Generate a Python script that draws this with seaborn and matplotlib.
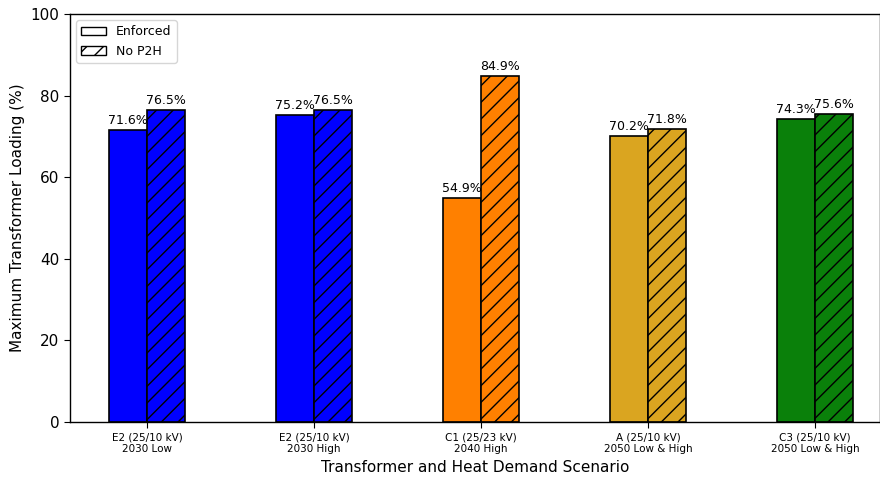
import matplotlib
matplotlib.use("Agg")
import matplotlib.pyplot as plt
import seaborn as sns
import pandas as pd
from matplotlib.patches import Patch

scenarios = ["E2 (25/10 kV)\n2030 Low", "E2 (25/10 kV)\n2030 High",
             "C1 (25/23 kV)\n2040 High", "A (25/10 kV)\n2050 Low & High",
             "C3 (25/10 kV)\n2050 Low & High"]
enforced = [71.6, 75.2, 54.9, 70.2, 74.3]
no_p2h = [76.5, 76.5, 84.9, 71.8, 75.6]
cases = ["Enforced", "No P2H"]
colors = ["#0000ff", "#0000ff", "#ff8000", "#daa520", "#0a800a"]

df = pd.DataFrame({
    "scenario": scenarios * 2,
    "load": enforced + no_p2h,
    "case": [cases[0]] * len(scenarios) + [cases[1]] * len(scenarios),
})

sns.set_style("white")
plt.rcParams["font.family"] = ["DejaVu Sans"]
plt.rcParams["hatch.linewidth"] = 1.0
for key in ["text.color", "axes.labelcolor", "xtick.color", "ytick.color"]:
    plt.rcParams[key] = "black"

fig = plt.figure(figsize=(8.8, 4.8), dpi=100)
ax = fig.add_axes([0.0795, 0.1208, 0.9205, 0.85])

sns.barplot(data=df, x="scenario", y="load", hue="case", hue_order=cases,
            width=0.46, gap=0, ax=ax, legend=False, saturation=1,
            edgecolor="black", linewidth=1.2, errorbar=None)

n = len(scenarios)
for i, p in enumerate(ax.patches[:2 * n]):
    p.set_facecolor(colors[i % n])
    p.set_edgecolor("black")
    if i >= n:
        p.set_hatch("//")

for cont in ax.containers:
    ax.bar_label(cont, fmt="%.1f%%", padding=2, fontsize=9, color="black")

ax.set_ylim(0, 100)
ax.set_xlim(-0.461, 4.389)
ax.set_yticks([0, 20, 40, 60, 80, 100])
ax.tick_params(axis="y", labelsize=11, length=4, left=True)
ax.tick_params(axis="x", labelsize=7.5, length=4, bottom=True)
ax.set_ylabel("Maximum Transformer Loading (%)", fontsize=11)
ax.set_xlabel("Transformer and Heat Demand Scenario", fontsize=11)
for s in ax.spines.values():
    s.set_color("black")
    s.set_linewidth(1.0)

handles = [Patch(facecolor="white", edgecolor="black", label="Enforced"),
           Patch(facecolor="white", edgecolor="black", hatch="//", label="No P2H")]
ax.legend(handles=handles, loc="upper left", fontsize=9, frameon=True)

fig.savefig("out.png", dpi=100)
